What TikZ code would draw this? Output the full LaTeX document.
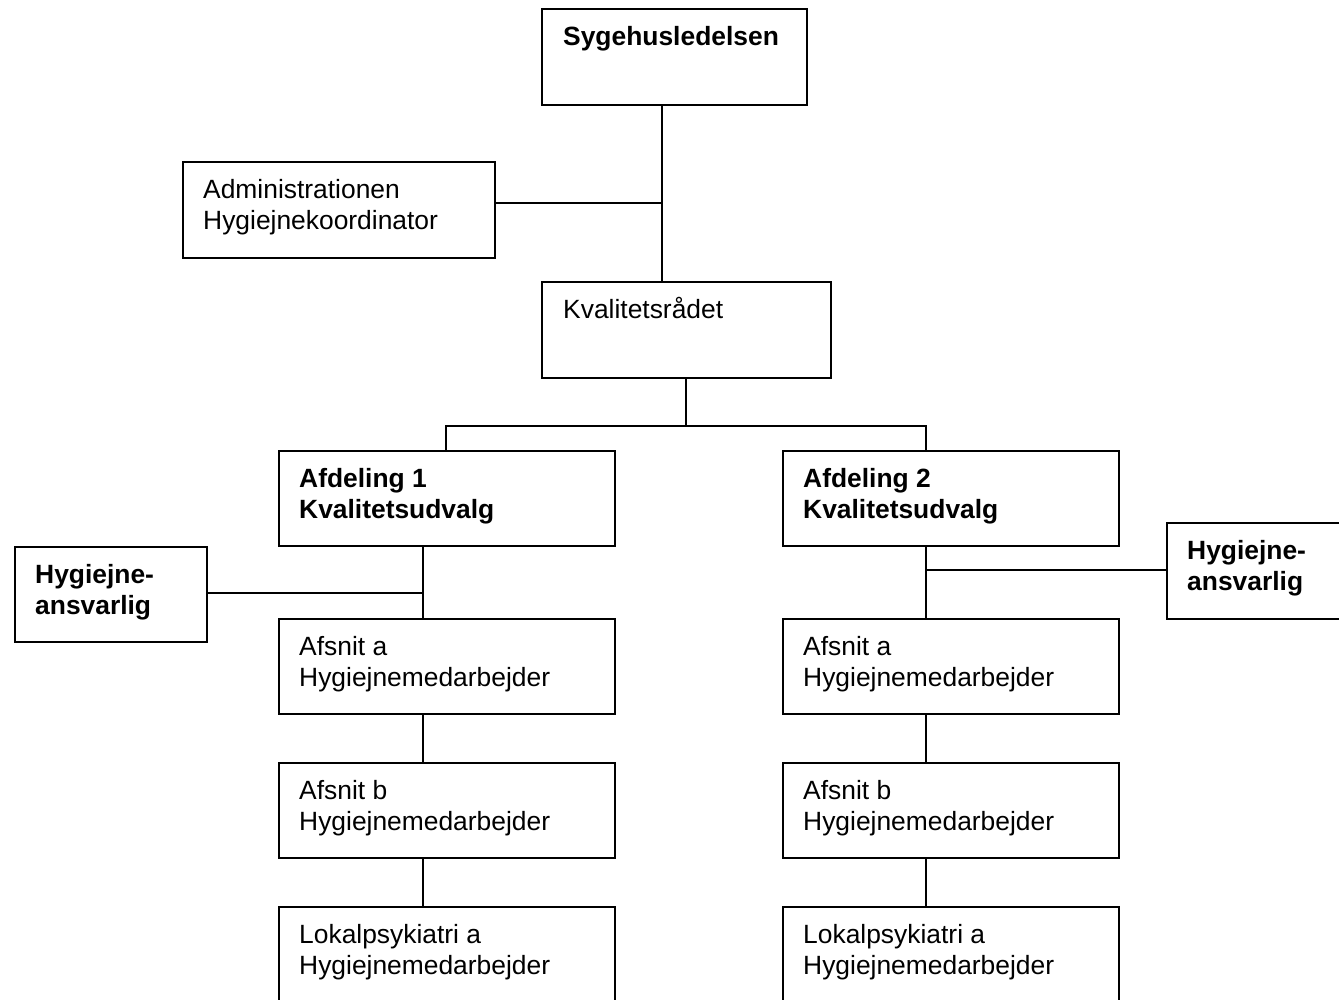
\documentclass[tikz,border=0pt]{standalone}
\usepackage{fontspec}
\setmainfont{Liberation Sans}
\begin{document}
\begin{tikzpicture}[x=1pt,y=-1pt,
  box/.style={draw, line width=1.8pt, inner sep=0pt, anchor=north west, minimum width=#1},
  box/.default=336pt,
  txt/.style={anchor=base west, inner sep=0pt, font=\fontsize{26.4}{31}\selectfont},
  btxt/.style={txt, font=\fontsize{26.4}{31}\selectfont\bfseries},
  conn/.style={line width=1.8pt}]
\useasboundingbox (0,0) rectangle (1339,999);
% boxes
\node[box=265pt, minimum height=96pt] (S) at (541,8) {};
\node[box=312pt, minimum height=96pt] (Adm) at (182,161) {};
\node[box=289pt, minimum height=96pt] (K) at (541,281) {};
\node[box, minimum height=95pt] (A1) at (278,450) {};
\node[box, minimum height=95pt] (A2) at (782,450) {};
\node[box=192pt, minimum height=95pt] (H1) at (14,546) {};
\node[box=190pt, minimum height=96pt] (H2) at (1166,522) {};
\node[box, minimum height=95pt] (a1) at (278,618) {};
\node[box, minimum height=95pt] (a2) at (782,618) {};
\node[box, minimum height=95pt] (b1) at (278,762) {};
\node[box, minimum height=95pt] (b2) at (782,762) {};
\node[box, minimum height=110pt] (L1) at (278,906) {};
\node[box, minimum height=110pt] (L2) at (782,906) {};
% texts
\node[btxt] (tS) at ([shift={(22,37)}]S.north west) {Sygehusledelsen};
\node[txt] (tAdm) at ([shift={(21,37)}]Adm.north west) {\begin{tabular}[t]{@{}l@{}}Administrationen\\Hygiejnekoordinator\end{tabular}};
\node[txt] (tK) at ([shift={(22,37)}]K.north west) {Kvalitetsrådet};
\node[btxt] (tA1) at ([shift={(21,37)}]A1.north west) {\begin{tabular}[t]{@{}l@{}}Afdeling 1\\Kvalitetsudvalg\end{tabular}};
\node[btxt] (tA2) at ([shift={(21,37)}]A2.north west) {\begin{tabular}[t]{@{}l@{}}Afdeling 2\\Kvalitetsudvalg\end{tabular}};
\node[btxt] (tH1) at ([shift={(21,37)}]H1.north west) {\begin{tabular}[t]{@{}l@{}}Hygiejne-\\ansvarlig\end{tabular}};
\node[btxt] (tH2) at ([shift={(21,37)}]H2.north west) {\begin{tabular}[t]{@{}l@{}}Hygiejne-\\ansvarlig\end{tabular}};
\node[txt] (ta1) at ([shift={(21,37)}]a1.north west) {\begin{tabular}[t]{@{}l@{}}Afsnit a\\Hygiejnemedarbejder\end{tabular}};
\node[txt] (ta2) at ([shift={(21,37)}]a2.north west) {\begin{tabular}[t]{@{}l@{}}Afsnit a\\Hygiejnemedarbejder\end{tabular}};
\node[txt] (tb1) at ([shift={(21,37)}]b1.north west) {\begin{tabular}[t]{@{}l@{}}Afsnit b\\Hygiejnemedarbejder\end{tabular}};
\node[txt] (tb2) at ([shift={(21,37)}]b2.north west) {\begin{tabular}[t]{@{}l@{}}Afsnit b\\Hygiejnemedarbejder\end{tabular}};
\node[txt] (tL1) at ([shift={(21,37)}]L1.north west) {\begin{tabular}[t]{@{}l@{}}Lokalpsykiatri a\\Hygiejnemedarbejder\end{tabular}};
\node[txt] (tL2) at ([shift={(21,37)}]L2.north west) {\begin{tabular}[t]{@{}l@{}}Lokalpsykiatri a\\Hygiejnemedarbejder\end{tabular}};
% junctions
\coordinate (j1) at (662,203);
\coordinate (j2) at (686,426);
\coordinate (d1) at (446,426);
\coordinate (d2) at (926,426);
\coordinate (j3) at (423,593);
\coordinate (j4) at (926,570);
% connectors
\draw[conn] (S.south -| j1) -- (K.north -| j1);
\draw[conn] (Adm.east |- j1) -- (j1);
\draw[conn] (K.south -| j2) -- (j2);
\draw[conn] (A1.north -| d1) -- (d1) -- (d2) -- (A2.north -| d2);
\draw[conn] (A1.south -| j3) -- (a1.north -| j3);
\draw[conn] (H1.east |- j3) -- (j3);
\draw[conn] (A2.south -| j4) -- (a2.north -| j4);
\draw[conn] (H2.west |- j4) -- (j4);
\draw[conn] (a1.south -| j3) -- (b1.north -| j3);
\draw[conn] (b1.south -| j3) -- (L1.north -| j3);
\draw[conn] (a2.south -| j4) -- (b2.north -| j4);
\draw[conn] (b2.south -| j4) -- (L2.north -| j4);
\end{tikzpicture}
\end{document}
